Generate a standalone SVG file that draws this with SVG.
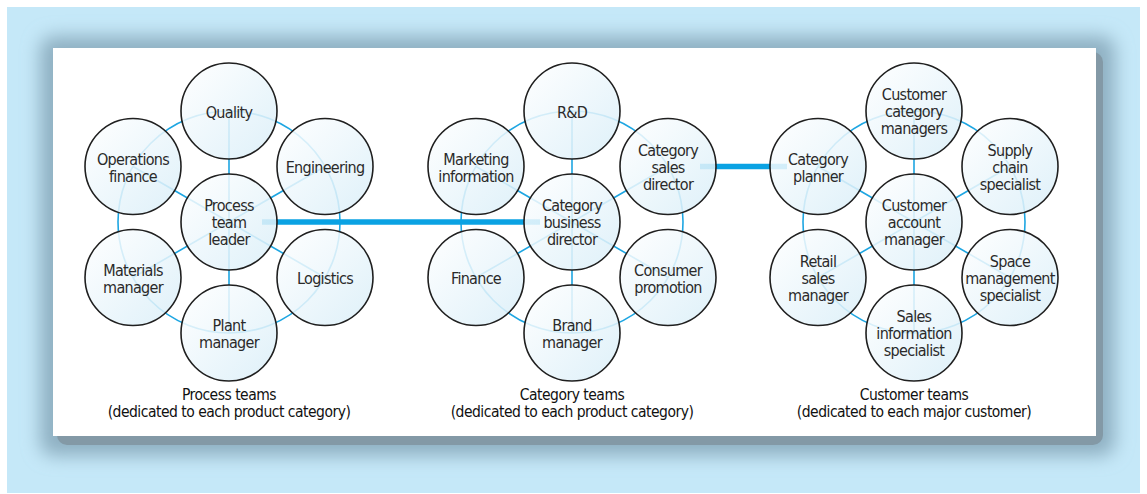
<svg xmlns="http://www.w3.org/2000/svg" width="1147" height="494" viewBox="0 0 1147 494">
<defs>
<linearGradient id="cg" x1="0" y1="0" x2="1" y2="1">
<stop offset="0" stop-color="#ffffff"/>
<stop offset="1" stop-color="#d9eef8"/>
</linearGradient>
<filter id="blur" x="-10%" y="-10%" width="120%" height="120%">
<feGaussianBlur stdDeviation="9"/>
</filter>
<style>
.ring{fill:none;stroke:#1ea6e2;stroke-width:1.6}
.spoke{stroke:#1ea6e2;stroke-width:1.6}
.thick{stroke:#0aa2e3;stroke-width:5.5}
.node circle{fill:url(#cg);fill-opacity:0.86;stroke:#1f1f1f;stroke-width:1.6}
.node text,.title{font-family:"Liberation Sans Narrow","DejaVu Sans Condensed","Open Sans",sans-serif;font-size:16px;letter-spacing:-0.7px;fill:#2a2a2a;text-anchor:middle}
.title{fill:#111;font-size:15.5px;letter-spacing:-0.5px}
</style>
</defs>
<rect x="0" y="0" width="1147" height="494" fill="#ffffff"/>
<rect x="7" y="7" width="1133" height="486" fill="#c5e8f8"/>
<rect x="40" y="36" width="1075" height="420" rx="14" fill="#8fb0c2" filter="url(#blur)"/>
<rect x="57" y="52" width="1046" height="393" rx="10" fill="#8399a6"/>
<rect x="53" y="48" width="1043" height="388" fill="#ffffff"/>

<g id="connectors">
<circle class="ring" cx="229" cy="222" r="111"/>
<circle class="ring" cx="572" cy="222" r="111"/>
<circle class="ring" cx="914" cy="222" r="111"/>
<path class="spoke" d="M229 222L229 111M229 222L325 166.5M229 222L325 277.5M229 222L229 333M229 222L133 277.5M229 222L133 166.5"/>
<path class="spoke" d="M572 222L572 111M572 222L668 166.5M572 222L668 277.5M572 222L572 333M572 222L476 277.5M572 222L476 166.5"/>
<path class="spoke" d="M914 222L914 111M914 222L1010 166.5M914 222L1010 277.5M914 222L914 333M914 222L818 277.5M914 222L818 166.5"/>
<line class="thick" x1="262" y1="222" x2="540" y2="222"/>
<line class="thick" x1="700" y1="166.5" x2="787" y2="166.5"/>
</g>

<g id="n-quality" class="node"><circle cx="229" cy="111" r="48"/><text x="229" y="118">Quality</text></g>
<g id="n-engineering" class="node"><circle cx="325" cy="166.5" r="48"/><text x="325" y="173">Engineering</text></g>
<g id="n-logistics" class="node"><circle cx="325" cy="277.5" r="48"/><text x="325" y="284">Logistics</text></g>
<g id="n-plant" class="node"><circle cx="229" cy="333" r="48"/><text x="229" y="331">Plant</text><text x="229" y="348">manager</text></g>
<g id="n-materials" class="node"><circle cx="133" cy="277.5" r="48"/><text x="133" y="275.5">Materials</text><text x="133" y="292.5">manager</text></g>
<g id="n-opsfinance" class="node"><circle cx="133" cy="166.5" r="48"/><text x="133" y="164.5">Operations</text><text x="133" y="181.5">finance</text></g>
<g id="n-ptl" class="node"><circle cx="229" cy="222" r="48"/><text x="229" y="211">Process</text><text x="229" y="228">team</text><text x="229" y="245">leader</text></g>

<g id="n-rd" class="node"><circle cx="572" cy="111" r="48"/><text x="572" y="118">R&amp;D</text></g>
<g id="n-csd" class="node"><circle cx="668" cy="166.5" r="48"/><text x="668" y="156">Category</text><text x="668" y="173">sales</text><text x="668" y="190">director</text></g>
<g id="n-consumer" class="node"><circle cx="668" cy="277.5" r="48"/><text x="668" y="275.5">Consumer</text><text x="668" y="292.5">promotion</text></g>
<g id="n-brand" class="node"><circle cx="572" cy="333" r="48"/><text x="572" y="331">Brand</text><text x="572" y="348">manager</text></g>
<g id="n-finance" class="node"><circle cx="476" cy="277.5" r="48"/><text x="476" y="284">Finance</text></g>
<g id="n-marketing" class="node"><circle cx="476" cy="166.5" r="48"/><text x="476" y="164.5">Marketing</text><text x="476" y="181.5">information</text></g>
<g id="n-cbd" class="node"><circle cx="572" cy="222" r="48"/><text x="572" y="211">Category</text><text x="572" y="228">business</text><text x="572" y="245">director</text></g>

<g id="n-ccm" class="node"><circle cx="914" cy="111" r="48"/><text x="914" y="100">Customer</text><text x="914" y="117">category</text><text x="914" y="134">managers</text></g>
<g id="n-supply" class="node"><circle cx="1010" cy="166.5" r="48"/><text x="1010" y="156">Supply</text><text x="1010" y="173">chain</text><text x="1010" y="190">specialist</text></g>
<g id="n-space" class="node"><circle cx="1010" cy="277.5" r="48"/><text x="1010" y="267">Space</text><text x="1010" y="284">management</text><text x="1010" y="301">specialist</text></g>
<g id="n-salesinfo" class="node"><circle cx="914" cy="333" r="48"/><text x="914" y="322">Sales</text><text x="914" y="339">information</text><text x="914" y="356">specialist</text></g>
<g id="n-retail" class="node"><circle cx="818" cy="277.5" r="48"/><text x="818" y="267">Retail</text><text x="818" y="284">sales</text><text x="818" y="301">manager</text></g>
<g id="n-planner" class="node"><circle cx="818" cy="166.5" r="48"/><text x="818" y="164.5">Category</text><text x="818" y="181.5">planner</text></g>
<g id="n-cam" class="node"><circle cx="914" cy="222" r="48"/><text x="914" y="211">Customer</text><text x="914" y="228">account</text><text x="914" y="245">manager</text></g>

<g id="titles">
<text class="title" x="229" y="400">Process teams</text>
<text class="title" x="229" y="417">(dedicated to each product category)</text>
<text class="title" x="572" y="400">Category teams</text>
<text class="title" x="572" y="417">(dedicated to each product category)</text>
<text class="title" x="914" y="400">Customer teams</text>
<text class="title" x="914" y="417">(dedicated to each major customer)</text>
</g>
</svg>
